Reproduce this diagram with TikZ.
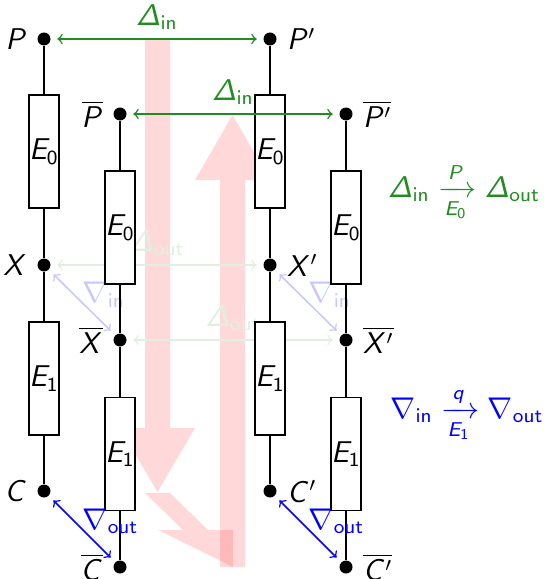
\documentclass[tikz,border=0pt]{standalone}
\usepackage{amsmath}
\DeclareMathVersion{sansv}
\SetSymbolFont{operators}{sansv}{OT1}{cmss}{m}{n}
\SetSymbolFont{letters}{sansv}{OT1}{cmss}{m}{sl}
\definecolor{dgreen}{RGB}{34,139,34}
\begin{document}
\mathversion{sansv}
\begin{tikzpicture}[x=0.4pt,y=-0.4pt,
  label distance=0.5pt,
  every node/.style={font=\fontsize{11.5pt}{14pt}\selectfont},
  dot/.style={circle,fill=black,inner sep=0pt,minimum size=5.2pt},
  res/.style={draw=black,fill=white,line width=0.7pt,minimum width=11.2pt,minimum height=45.2pt,inner sep=0pt},
  wire/.style={line width=0.7pt},
  pinkarrow/.style={fill=red,fill opacity=0.15},
  conn/.style={line width=0.6pt,<->,shorten <=2.5pt,shorten >=2.5pt},
  grn/.style={conn,draw=dgreen,text=dgreen},
  fgrn/.style={conn,draw=dgreen!14,text=dgreen!14},
  blu/.style={conn,draw=blue,text=blue},
  fblu/.style={conn,draw=blue!22,text=blue!22},
  dlab/.style={anchor=base west,inner sep=0pt}
]
\useasboundingbox (0,0) rectangle (543,579);

% pink arrows
\fill[pinkarrow] (145,39) -- (170,39) -- (170,428) -- (195,428) -- (157.5,492) -- (120,428) -- (145,428) -- cycle;
\fill[pinkarrow] (145,493) -- (170,493) -- (208,530) -- (233,530) -- (233,567) -- (158,530) -- (183,530) -- cycle;
\fill[pinkarrow] (220,567) -- (245,567) -- (245,180) -- (270,180) -- (232.5,115) -- (195,180) -- (220,180) -- cycle;

% dots
\node[dot,label={left:$P$}] (P) at (44,39) {};
\node[dot,label={left:$X$}] (X) at (44,265) {};
\node[dot,label={left:$C$}] (C) at (44,491) {};
\node[dot,label={left:$\overline{P}$}] (Pb) at (120,114) {};
\node[dot,label={left:$\overline{X}$}] (Xb) at (120,340) {};
\node[dot,label={left:$\overline{C}$}] (Cb) at (120,567) {};
\node[dot,label={right:$P'$}] (Pp) at (270,39) {};
\node[dot,label={right:$X'$}] (Xp) at (270,265) {};
\node[dot,label={right:$C'$}] (Cp) at (270,491) {};
\node[dot,label={right:$\overline{P'}$}] (Pbp) at (346,114) {};
\node[dot,label={right:$\overline{X'}$}] (Xbp) at (346,340) {};
\node[dot,label={right:$\overline{C'}$}] (Cbp) at (346,567) {};

% faded connectors
\draw[fgrn] (X) -- node[above] {$\varDelta_{\mathrm{out}}$} (Xp);
\draw[fgrn] (Xb) -- node[above] {$\varDelta_{\mathrm{out}}$} (Xbp);
\draw[fblu] (X) -- node[dlab] {$\nabla_{\mathrm{in}}$} (Xb);
\draw[fblu] (Xp) -- node[dlab] {$\nabla_{\mathrm{in}}$} (Xbp);

% boxes
\node[res] (b1) at (44,151.5) {$E_0$};
\node[res] (b2) at (44,378.5) {$E_1$};
\node[res] (b3) at (120,227.5) {$E_0$};
\node[res] (b4) at (120,454) {$E_1$};
\node[res] (b5) at (270,151.5) {$E_0$};
\node[res] (b6) at (270,378.5) {$E_1$};
\node[res] (b7) at (346,227.5) {$E_0$};
\node[res] (b8) at (346,454) {$E_1$};

% wires
\draw[wire] (P) -- (b1); \draw[wire] (b1) -- (X); \draw[wire] (X) -- (b2); \draw[wire] (b2) -- (C);
\draw[wire] (Pb) -- (b3); \draw[wire] (b3) -- (Xb); \draw[wire] (Xb) -- (b4); \draw[wire] (b4) -- (Cb);
\draw[wire] (Pp) -- (b5); \draw[wire] (b5) -- (Xp); \draw[wire] (Xp) -- (b6); \draw[wire] (b6) -- (Cp);
\draw[wire] (Pbp) -- (b7); \draw[wire] (b7) -- (Xbp); \draw[wire] (Xbp) -- (b8); \draw[wire] (b8) -- (Cbp);

% solid connectors
\draw[grn] (P) -- node[above] {$\varDelta_{\mathrm{in}}$} (Pp);
\draw[grn] (Pb) -- node[above] {$\varDelta_{\mathrm{in}}$} (Pbp);
\draw[blu] (C) -- node[dlab] {$\nabla_{\mathrm{out}}$} (Cb);
\draw[blu] (Cp) -- node[dlab] {$\nabla_{\mathrm{out}}$} (Cbp);

% formulas
\node[text=dgreen,anchor=base] (fg) at (464,197) {$\varDelta_{\mathrm{in}} \xrightarrow[E_0]{P} \varDelta_{\mathrm{out}}$};
\node[text=blue,anchor=base] (fb) at (467,418) {$\nabla_{\mathrm{in}} \xrightarrow[E_1]{q} \nabla_{\mathrm{out}}$};
\end{tikzpicture}
\end{document}
